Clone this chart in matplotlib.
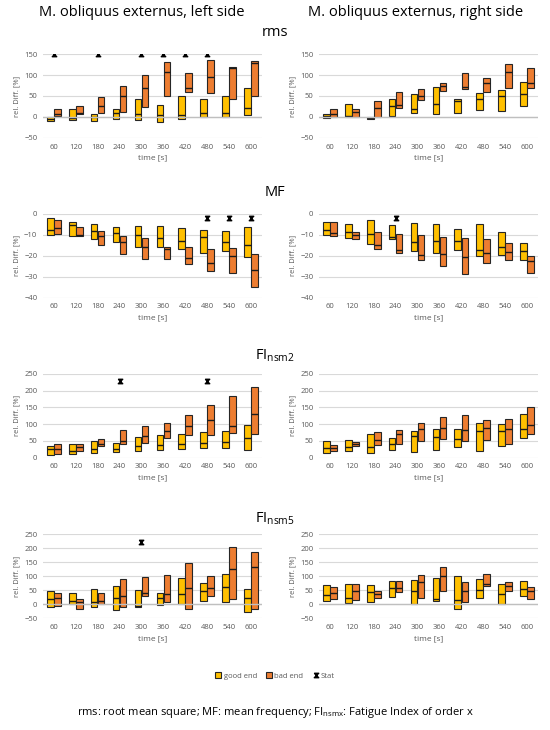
"""Relative differences of EMG parameters, M. obliquus externus, good vs bad end."""

import numpy as np
from matplotlib import pyplot as plt

times = ["60", "120", "180", "240", "300", "360", "420", "480", "540", "600"]

# rms, left side: (low, high, median) per time point
rms_left_good_low = [-9, -7, -10, -5, -6, -12, -4, -1, 0, 4]
rms_left_good_high = [0, 19, 8, 20, 44, 28, 49, 44, 50, 68]
rms_left_good_med = [-4, -3, -1, 9, 7, 5, 5, 9, 10, 21]
rms_left_bad_low = [2, 6, 10, 13, 23, 51, 59, 57, 43, 51]
rms_left_bad_high = [19, 26, 48, 73, 99, 130, 105, 135, 118, 133]
rms_left_bad_med = [8, 9, 25, 51, 68, 106, 68, 95, 116, 129]
rms_left_stat = [150, None, 150, None, 150, 150, 150, 150, None, None]

# rms, right side
rms_right_good_low = [-2, 1, -4, 2, 9, 8, 10, 16, 14, 26]
rms_right_good_high = [6, 30, 0, 44, 55, 71, 43, 56, 65, 84]
rms_right_good_med = [2, 3, -2, 25, 18, 30, 37, 42, 51, 55]
rms_right_bad_low = [1, 1, 1, 21, 40, 62, 66, 59, 68, 68]
rms_right_bad_high = [19, 20, 38, 59, 67, 81, 105, 94, 126, 116]
rms_right_bad_med = [8, 11, 21, 29, 49, 74, 72, 82, 107, 82]
rms_right_stat = [None] * 10

# MF, left side
mf_left_good_low = [-10, -10.6, -12, -13.2, -15.6, -15.9, -16.8, -18.6, -17.9, -20.6]
mf_left_good_high = [-2, -3.7, -4.8, -6.3, -6, -5.9, -6.5, -7.5, -8.1, -6.2]
mf_left_good_med = [-7.6, -5.2, -8, -8.9, -10.2, -11.7, -12.7, -11.1, -13.2, -14.6]
mf_left_bad_low = [-9.4, -10.6, -15, -19.2, -21.7, -21.4, -24, -27, -28, -34.8]
mf_left_bad_high = [-3, -6.2, -8, -10.6, -11.6, -15.6, -16, -16.7, -16.3, -19.2]
mf_left_bad_med = [-6.8, -10, -10.5, -13.2, -15.6, -16.7, -20.8, -23.2, -20, -26.5]
mf_left_stat = [None, None, None, None, None, None, None, -2, -2, -2]

# MF, right side
mf_right_good_low = [-10, -11.7, -14.3, -12.2, -17.6, -18.6, -17, -20, -19.5, -22]
mf_right_good_high = [-3.8, -4.6, -2.7, -5.2, -4.3, -4.6, -7.1, -4.9, -8.4, -13.8]
mf_right_good_med = [-7.8, -8.7, -9.4, -11, -13.2, -12.7, -12.9, -17.1, -16, -17.6]
mf_right_bad_low = [-10.5, -12.2, -16.5, -18.4, -22, -24.6, -28.6, -23.2, -21.9, -28.1]
mf_right_bad_high = [-4, -8.7, -8.7, -9.5, -10.2, -10.8, -11.3, -12, -13.7, -20.3]
mf_right_bad_med = [-9.2, -10.2, -14.9, -17.1, -19.5, -19.2, -20.5, -18.7, -18.1, -22.5]
mf_right_stat = [None, None, None, -2, None, None, None, None, None, None]

# FI nsm2, left side
fi2_left_good_low = [8, 10, 15, 18, 20, 22, 25, 30, 30, 23]
fi2_left_good_high = [35, 40, 50, 43, 62, 68, 72, 78, 80, 98]
fi2_left_good_med = [25, 20, 25, 27, 35, 37, 42, 45, 48, 60]
fi2_left_bad_low = [12, 20, 35, 40, 45, 60, 68, 68, 74, 72]
fi2_left_bad_high = [40, 42, 57, 82, 93, 103, 127, 158, 185, 210]
fi2_left_bad_med = [25, 33, 40, 50, 65, 80, 95, 112, 95, 130]
fi2_left_stat = [None, None, None, 227, None, None, None, 227, None, None]

# FI nsm2, right side
fi2_right_good_low = [15, 20, 13, 22, 17, 22, 32, 20, 35, 60]
fi2_right_good_high = [50, 52, 72, 58, 80, 85, 85, 102, 100, 130]
fi2_right_good_med = [30, 33, 33, 40, 65, 62, 57, 80, 80, 85]
fi2_right_bad_low = [20, 35, 37, 40, 50, 57, 50, 52, 40, 70]
fi2_right_bad_high = [37, 47, 77, 82, 102, 122, 128, 112, 115, 150]
fi2_right_bad_med = [30, 42, 52, 70, 85, 88, 82, 88, 85, 98]
fi2_right_stat = [None] * 10

# FI nsm5, left side
fi5_left_good_low = [-11, 0, -8, -20, -8, -2, 1, 13, 7, -26]
fi5_left_good_high = [46, 40, 54, 64, 52, 42, 94, 76, 109, 54]
fi5_left_good_med = [18, 12, 7, 22, -6, 22, 37, 48, 61, 24]
fi5_left_bad_low = [-6, -18, 0, -11, 28, 7, -17, 28, 18, -17]
fi5_left_bad_high = [42, 18, 40, 90, 96, 106, 148, 100, 206, 188]
fi5_left_bad_med = [22, 10, 12, 28, 42, 37, 58, 58, 126, 133]
fi5_left_stat = [None, None, None, None, 222, None, None, None, None, None]

# FI nsm5, right side
fi5_right_good_low = [12, 4, 7, 25, 1, 12, -18, 22, 0, 28]
fi5_right_good_high = [70, 72, 70, 85, 88, 94, 100, 91, 72, 82]
fi5_right_good_med = [34, 22, 43, 58, 46, 19, 16, 52, 36, 55]
fi5_right_bad_low = [19, 16, 22, 43, 22, 46, 7, 67, 49, 18]
fi5_right_bad_high = [61, 72, 46, 85, 103, 132, 79, 109, 79, 61]
fi5_right_bad_med = [42, 48, 36, 60, 78, 102, 48, 72, 67, 48]
fi5_right_stat = [None] * 10

YELLOW = "#FFC000"
ORANGE = "#ED7D31"
HOURGLASS = [(-1, 1), (1, 1), (-1, -1), (1, -1), (-1, 1)]

plt.rcParams["font.family"] = ["Open Sans", "DejaVu Sans"]


def draw_panel(ax, good, bad, stat, ylim, yticks):
    x = np.arange(len(times))
    w = 0.3
    for series, color, off in ((good, YELLOW, -0.16), (bad, ORANGE, 0.16)):
        low, high, med = (np.array(s, dtype=float) for s in series)
        ax.bar(x + off, high - low, bottom=low, width=w, color=color,
               edgecolor="#262626", linewidth=0.8, zorder=2)
        ax.hlines(med, x + off - w / 2, x + off + w / 2, color="#1a1a1a",
                  linewidth=1.0, zorder=3)
    sx = [i for i, v in enumerate(stat) if v is not None]
    sy = [v for v in stat if v is not None]
    if sx:
        ax.plot(sx, sy, linestyle="none", color="black", markersize=3.2,
                marker=HOURGLASS, zorder=4)
    ax.set_xlim(-0.5, len(times) - 0.5)
    ax.set_ylim(*ylim)
    ax.set_yticks(yticks)
    ax.set_xticks(x)
    ax.set_xticklabels(times)
    ax.grid(axis="y", color="#d9d9d9", linewidth=0.8, zorder=0)
    ax.set_axisbelow(True)
    if ylim[0] < 0 < ylim[1]:
        ax.axhline(0, color="#bfbfbf", linewidth=1.0, zorder=3.5)
    for side in ("top", "right", "left", "bottom"):
        ax.spines[side].set_visible(False)
    ax.tick_params(length=0, labelsize=5.5, labelcolor="#595959", pad=4)
    ax.set_xlabel("time [s]", fontsize=6, color="#595959", labelpad=3)
    ax.set_ylabel("rel. Diff. [%]", fontsize=5.5, color="#595959", labelpad=3)


fig = plt.figure(figsize=(5.5, 7.3), dpi=100)

rows = [
    ("rms", 0.811, (-50, 150), [-50, 0, 50, 100, 150],
     ((rms_left_good_low, rms_left_good_high, rms_left_good_med),
      (rms_left_bad_low, rms_left_bad_high, rms_left_bad_med), rms_left_stat),
     ((rms_right_good_low, rms_right_good_high, rms_right_good_med),
      (rms_right_bad_low, rms_right_bad_high, rms_right_bad_med), rms_right_stat)),
    ("MF", 0.592, (-40, 0), [-40, -30, -20, -10, 0],
     ((mf_left_good_low, mf_left_good_high, mf_left_good_med),
      (mf_left_bad_low, mf_left_bad_high, mf_left_bad_med), mf_left_stat),
     ((mf_right_good_low, mf_right_good_high, mf_right_good_med),
      (mf_right_bad_low, mf_right_bad_high, mf_right_bad_med), mf_right_stat)),
    (r"FI$_{\mathregular{nsm2}}$", 0.373, (0, 250), [0, 50, 100, 150, 200, 250],
     ((fi2_left_good_low, fi2_left_good_high, fi2_left_good_med),
      (fi2_left_bad_low, fi2_left_bad_high, fi2_left_bad_med), fi2_left_stat),
     ((fi2_right_good_low, fi2_right_good_high, fi2_right_good_med),
      (fi2_right_bad_low, fi2_right_bad_high, fi2_right_bad_med), fi2_right_stat)),
    (r"FI$_{\mathregular{nsm5}}$", 0.153, (-50, 250), [-50, 0, 50, 100, 150, 200, 250],
     ((fi5_left_good_low, fi5_left_good_high, fi5_left_good_med),
      (fi5_left_bad_low, fi5_left_bad_high, fi5_left_bad_med), fi5_left_stat),
     ((fi5_right_good_low, fi5_right_good_high, fi5_right_good_med),
      (fi5_right_bad_low, fi5_right_bad_high, fi5_right_bad_med), fi5_right_stat)),
]

title_y = [1 - 32 / 730, 1 - 192 / 730, 1 - 356 / 730, 1 - 519 / 730]
for (name, bottom, ylim, yticks, left, right), ty in zip(rows, title_y):
    ax_l = fig.add_axes([0.078, bottom, 0.398, 0.115])
    ax_r = fig.add_axes([0.580, bottom, 0.398, 0.115])
    draw_panel(ax_l, left[0], left[1], left[2], ylim, yticks)
    draw_panel(ax_r, right[0], right[1], right[2], ylim, yticks)
    fig.text(0.5, ty, name, ha="center", va="center", fontsize=10.5)

fig.text(142 / 550, 1 - 13 / 730, "M. obliquus externus, left side",
         ha="center", va="center", fontsize=10.5)
fig.text(416 / 550, 1 - 13 / 730, "M. obliquus externus, right side",
         ha="center", va="center", fontsize=10.5)

handles = [
    plt.Rectangle((0, 0), 1, 1, facecolor=YELLOW, edgecolor="#262626", linewidth=0.8),
    plt.Rectangle((0, 0), 1, 1, facecolor=ORANGE, edgecolor="#262626", linewidth=0.8),
    plt.Line2D([], [], linestyle="none", color="black", markersize=3.2,
               marker=HOURGLASS),
]
fig.legend(handles, ["good end", "bad end", "Stat"], loc="center",
           bbox_to_anchor=(0.5, 1 - 676 / 730), ncol=3, frameon=False,
           fontsize=5.5, handlelength=0.8, handleheight=0.8, handletextpad=0.3,
           columnspacing=1.2, labelcolor="#595959")

fig.text(0.5, 1 - 713 / 730,
         r"rms: root mean square; MF: mean frequency; FI$_{\mathregular{nsmx}}$: Fatigue Index of order x",
         ha="center", va="center", fontsize=8)

fig.savefig("out.png", dpi=100)
plt.close(fig)
